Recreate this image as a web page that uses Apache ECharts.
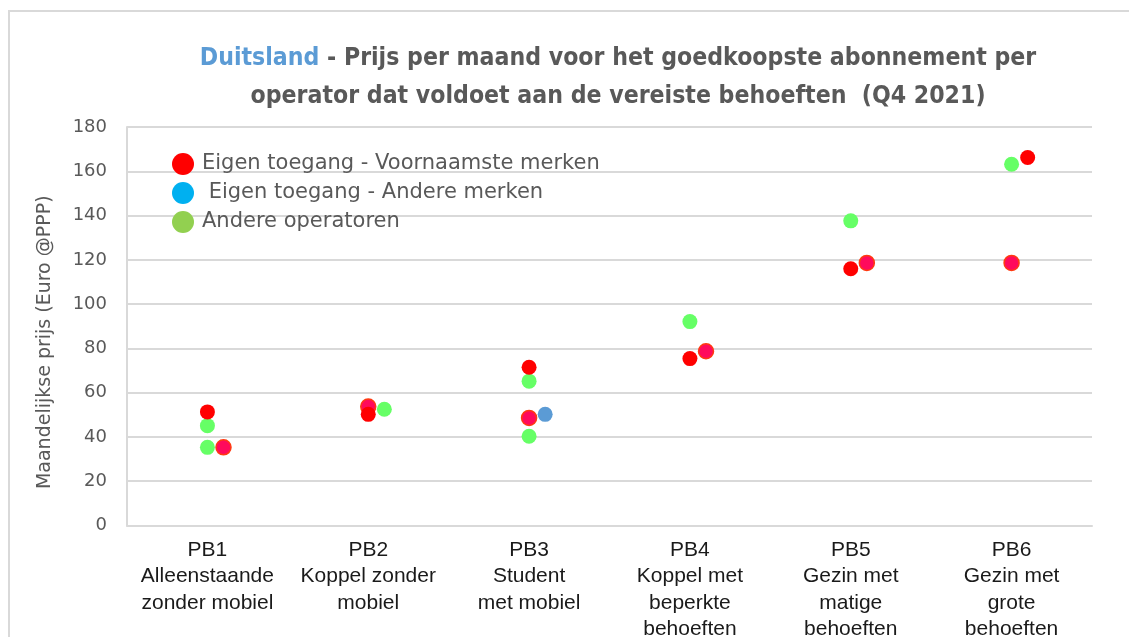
<!DOCTYPE html>
<html>
<head>
<meta charset="utf-8">
<script src="https://cdn.jsdelivr.net/npm/echarts@6/dist/echarts.min.js"></script>
<style>
  html, body { margin: 0; padding: 0; background: #fff; }
  #chart { width: 1129px; height: 637px; }
</style>
</head>
<body>
<div id="chart"></div>
<script>
// Profiles of needs (x-axis categories)
const categories = [
  'PB1\nAlleenstaande\nzonder mobiel',
  'PB2\nKoppel zonder\nmobiel',
  'PB3\nStudent\nmet mobiel',
  'PB4\nKoppel met\nbeperkte\nbehoeften',
  'PB5\nGezin met\nmatige\nbehoeften',
  'PB6\nGezin met\ngrote\nbehoeften'
];

const yTicks = [0, 20, 40, 60, 80, 100, 120, 140, 160, 180];

// Own access - main brands: category index, side-by-side slot, price, highlighted
const mainCat   = [0, 0, 1, 1, 2, 2, 3, 3, 4, 4, 5, 5];
const mainSlot  = [0, 1, 0, 0, 0, 0, 0, 1, 0, 1, 1, 0];
const mainPrice = [51.3, 35.3, 53.7, 50.2, 71.5, 48.6, 75.4, 78.7, 116.0, 118.6, 166.2, 118.6];
const mainHl    = [0, 1, 1, 0, 0, 1, 0, 1, 0, 1, 0, 1];

// Own access - other brands
const otherCat   = [2];
const otherSlot  = [1];
const otherPrice = [50.2];

// Other operators
const opsCat   = [0, 0, 1, 2, 2, 3, 4, 5];
const opsSlot  = [0, 0, 1, 0, 0, 0, 0, 0];
const opsPrice = [45.1, 35.3, 52.5, 65.2, 40.3, 92.1, 137.6, 163.2];

const seriesNames = [
  'Eigen toegang - Voornaamste merken',
  'Eigen toegang - Andere merken',
  'Andere operatoren'
];

const SLOT_STEP = 0.1;
const pos = (c, s) => c + 0.5 + s * SLOT_STEP;

function points(cats, slots, prices, hl) {
  return prices.map((v, i) => {
    const p = { value: [pos(cats[i], slots[i]), v] };
    if (hl && hl[i]) {
      p.itemStyle = { color: '#FF0A5C', borderColor: '#FF3A10', borderWidth: 1.5 };
    }
    return p;
  });
}

const TITLE_FONT = '"Liberation Sans Narrow", "DejaVu Sans Condensed", sans-serif';

const chart = echarts.init(document.getElementById('chart'));

chart.setOption({
  animation: false,
  backgroundColor: '#fff',
  graphic: [{
    type: 'rect',
    shape: { x: 9, y: 11, width: 1200, height: 700 },
    style: { fill: 'none', stroke: '#d9d9d9', lineWidth: 2 },
    silent: true
  }],
  title: {
    left: 613,
    top: 35,
    textAlign: 'center',
    text: '{a|Duitsland}{b| - Prijs per maand voor het goedkoopste abonnement per}\n{b|operator dat voldoet aan de vereiste behoeften  (Q4 2021)}',
    textStyle: {
      fontFamily: TITLE_FONT,
      rich: {
        a: { color: '#5B9BD5', fontSize: 24.6, fontWeight: 'bold', lineHeight: 38, fontFamily: TITLE_FONT },
        b: { color: '#595959', fontSize: 24.6, fontWeight: 'bold', lineHeight: 38, fontFamily: TITLE_FONT }
      }
    }
  },
  legend: {
    orient: 'vertical',
    left: 167,
    top: 148,
    itemWidth: 22,
    itemHeight: 22,
    itemGap: 7,
    icon: 'circle',
    textStyle: { color: '#595959', fontSize: 21, fontFamily: '"DejaVu Sans", sans-serif', padding: [0, 0, 0, 3] },
    formatter: name => (name === seriesNames[1] ? ' ' + name : name),
    data: [
      { name: seriesNames[0], itemStyle: { color: '#FF0000' } },
      { name: seriesNames[1], itemStyle: { color: '#00B0F0' } },
      { name: seriesNames[2], itemStyle: { color: '#92D050' } }
    ]
  },
  grid: { left: 127, right: 37, top: 127, bottom: 111.5, outerBoundsMode: 'none', containLabel: false },
  xAxis: [
    {
      type: 'category',
      data: categories,
      axisTick: { show: false },
      axisLine: { lineStyle: { color: '#d9d9d9', width: 2 } },
      axisLabel: {
        color: '#1a1a1a', fontSize: 21, lineHeight: 26.5, margin: 11,
        fontFamily: '"Liberation Sans", Arial, sans-serif', interval: 0
      }
    },
    { type: 'value', min: 0, max: 6, show: false }
  ],
  yAxis: {
    type: 'value',
    min: yTicks[0],
    max: yTicks[yTicks.length - 1],
    interval: 20,
    name: 'Maandelijkse prijs (Euro @PPP)',
    nameLocation: 'middle',
    nameGap: 72,
    nameTextStyle: { color: '#595959', fontSize: 19, fontFamily: '"DejaVu Sans", sans-serif', padding: [0, 0, 0, -32] },
    axisLine: { show: true, lineStyle: { color: '#d9d9d9', width: 2 } },
    axisTick: { show: false },
    axisLabel: { color: '#595959', fontSize: 18, margin: 20, fontFamily: '"DejaVu Sans", sans-serif' },
    splitLine: { lineStyle: { color: '#d9d9d9', width: 2 } }
  },
  series: [
    {
      name: seriesNames[0], type: 'scatter', xAxisIndex: 1, symbolSize: 15,
      itemStyle: { color: '#FF0000', opacity: 1 },
      data: points(mainCat, mainSlot, mainPrice, mainHl)
    },
    {
      name: seriesNames[1], type: 'scatter', xAxisIndex: 1, symbolSize: 15,
      itemStyle: { color: '#5B9BD5', opacity: 1 },
      data: points(otherCat, otherSlot, otherPrice)
    },
    {
      name: seriesNames[2], type: 'scatter', xAxisIndex: 1, symbolSize: 15, z: 1,
      itemStyle: { color: '#66FF66', opacity: 1 },
      data: points(opsCat, opsSlot, opsPrice)
    }
  ]
});
</script>
</body>
</html>
